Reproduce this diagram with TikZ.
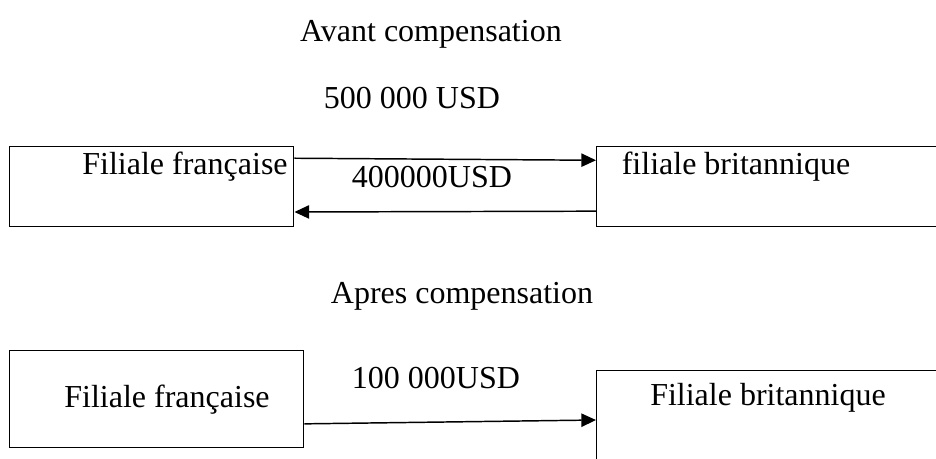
\documentclass[tikz,border=0pt]{standalone}
\usepackage{fontspec}
\setmainfont{Liberation Serif}
\usetikzlibrary{arrows.meta,calc}
\begin{document}
\begin{tikzpicture}[x=0.75pt,y=-0.75pt,line width=1.1pt,
  box/.style={draw,rectangle,inner sep=0pt,anchor=north west},
  txt/.style={font=\fontsize{24}{28}\selectfont,inner sep=0pt},
  flow/.style={-{Triangle[length=11pt,width=10pt]}}]
  \clip (0,0) rectangle (936,458);
  % titres
  \node[txt] (avant) at (431,34) {Avant compensation};
  \node[txt] (mont1) at (412,98) {500 000 USD};
  \node[txt] (apres) at (462,296) {Apres compensation};
  % avant compensation
  \node[box,minimum width=213pt,minimum height=60pt] (ff1) at (9,146) {};
  \node[box,minimum width=260pt,minimum height=60pt] (fb1) at (596,146) {};
  \node[txt] at (185,167) {Filiale française};
  \node[txt] at (736,167) {filiale britannique};
  \draw[flow] ($(ff1.north east)!0.15!(ff1.south east)$) -- ($(fb1.north west)!0.175!(fb1.south west)$);
  \draw[flow] ($(fb1.north west)!0.8!(fb1.south west)$) -- ($(ff1.north east)!0.81!(ff1.south east)$);
  \node[txt] (mont2) at (432,177) {400000USD};
  % apres compensation
  \node[box,minimum width=220.5pt,minimum height=72.75pt] (ff2) at (9,350) {};
  \node[box,minimum width=260pt,minimum height=90pt] (fb2) at (596,370) {};
  \node[txt] at (167,400) {Filiale française};
  \node[txt] at (768,398) {Filiale britannique};
  \draw[flow] ($(ff2.north east)!0.75!(ff2.south east)$) -- ($(fb2.north west)+(0,50)$);
  \node[txt] (mont3) at (436,378) {100 000USD};
\end{tikzpicture}
\end{document}
